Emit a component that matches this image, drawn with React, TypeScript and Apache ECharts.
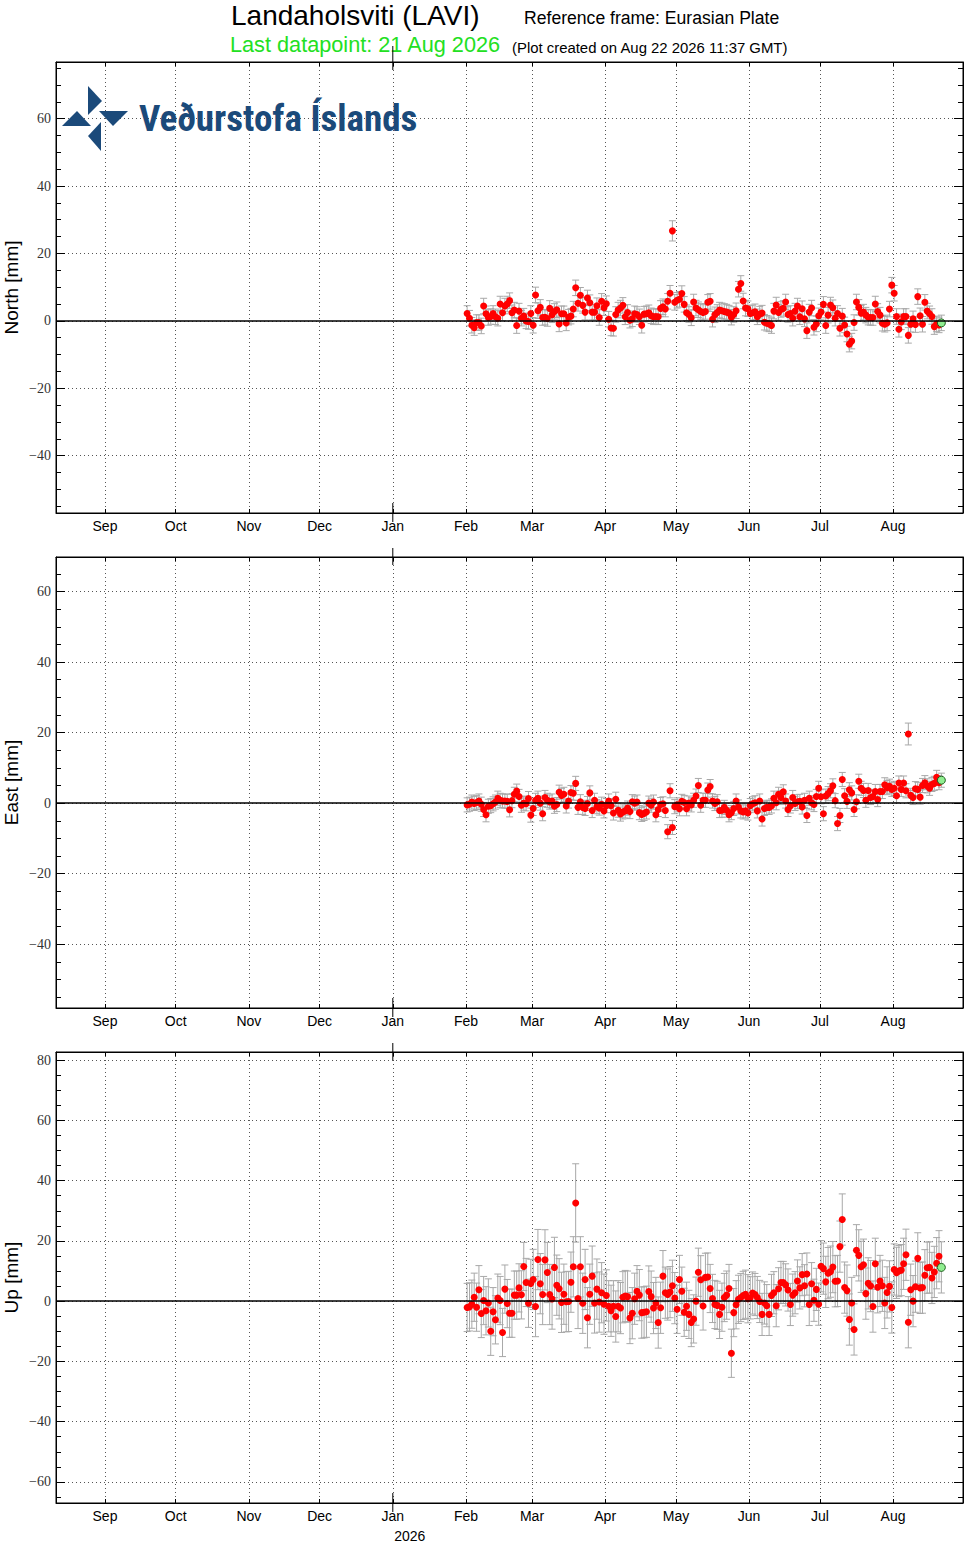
import React, { useEffect, useRef } from "react";
import * as echarts from "echarts";

const DAY_MS = 86400000;
const FIRST_DAY = Date.UTC(2026, 1, 1, 12);
const X_MIN = Date.UTC(2025, 7, 11, 6);
const X_MAX = Date.UTC(2026, 7, 30, 16);

const MONTH_LABELS = ["Sep", "Oct", "Nov", "Dec", "Jan", "Feb", "Mar", "Apr", "May", "Jun", "Jul", "Aug"];
const MONTH_STARTS = [
  Date.UTC(2025, 8, 1), Date.UTC(2025, 9, 1), Date.UTC(2025, 10, 1), Date.UTC(2025, 11, 1),
  Date.UTC(2026, 0, 1), Date.UTC(2026, 1, 1), Date.UTC(2026, 2, 1), Date.UTC(2026, 3, 1),
  Date.UTC(2026, 4, 1), Date.UTC(2026, 5, 1), Date.UTC(2026, 6, 1), Date.UTC(2026, 7, 1),
];
const YEAR_LABEL = "2026";

const NORTH_TICKS = [-40, -20, 0, 20, 40, 60];
const EAST_TICKS = [-40, -20, 0, 20, 40, 60];
const UP_TICKS = [-60, -40, -20, 0, 20, 40, 60, 80];

// daily values from 1 Feb 2026 to 21 Aug 2026 (mm)
const NORTH = [
  2.2, 0.8, -1.3, -2.0, -0.5, -0.5, -1.5, 4.4, 2.1, 1.0,
  1.3, 2.2, 1.2, 0.8, 5.0, 2.4, 4.4, 5.0, 6.0, 2.4,
  3.2, -1.4, 2.9, 0.8, 1.4, 0.0, -0.2, 2.2, -1.3, 7.7,
  3.0, 4.0, 1.0, 1.1, 0.7, 3.7, 1.8, 2.8, 3.3, -0.9,
  2.1, 2.1, -0.6, 1.1, 1.4, 3.5, 9.8, 5.2, 7.6, 4.6,
  2.6, 6.8, 5.4, 2.6, 2.6, 4.5, 1.0, 5.8, 3.9, 5.1,
  0.5, -2.1, -2.2, 1.9, 3.2, 3.8, 4.6, 1.2, 2.5, 0.2,
  0.6, 2.1, 1.9, 1.2, -1.3, 2.0, 2.1, 2.4, 1.5, 1.2,
  1.3, 1.2, 3.7, 4.2, 3.5, 5.8, 8.2, 26.7, 5.5, 6.1,
  6.4, 8.1, 4.9, 2.4, 1.9, 0.9, 5.6, 3.8, 3.3, 2.8,
  2.5, 2.8, 5.5, 5.8, 0.5, 1.8, 2.5, 3.2, 3.0, 2.8,
  2.6, 2.3, 1.1, 1.9, 3.0, 9.4, 11.1, 5.9, 3.8, 3.6,
  2.2, 2.4, 2.7, 1.2, 2.0, 2.3, -0.4, -0.7, -0.9, -1.4,
  2.9, 4.7, 2.5, 3.4, 3.7, 5.6, 1.9, 2.2, 0.8, 2.9,
  4.4, 1.2, 3.6, 0.6, -2.9, 2.6, 3.8, -1.9, -0.9, 1.5,
  2.6, 4.9, -1.4, 1.7, 4.7, 3.9, 0.8, 2.2, -2.2, 1.4,
  -1.2, -3.9, -6.9, -6.0, -0.5, 5.6, 4.0, 2.3, 2.6, 1.7,
  1.1, 1.0, 1.0, 5.0, 2.8, 1.7, -0.7, -1.0, -0.6, 3.5,
  10.6, 8.2, 1.3, -2.5, -0.3, 1.3, 1.3, -4.3, -1.0, 0.6,
  -1.1, 7.2, 1.5, -1.0, 5.5, 2.9, 2.1, 1.3, -1.7, -0.9,
  -1.2, -0.6,
];
const EAST = [
  -0.5, -0.3, 0.3, -0.1, 0.2, 0.6, -0.3, -1.8, -3.3, -0.9,
  -0.7, -0.2, 0.3, 1.4, 0.8, 0.6, 0.6, 0.5, -1.9, 0.7,
  2.5, 3.4, 1.9, -0.6, 0.0, -0.2, 1.3, -3.4, -1.5, 0.8,
  1.4, 0.0, -3.0, 1.6, 0.8, 0.3, 0.6, -0.9, -0.4, 3.1,
  2.2, 2.5, -0.8, 0.6, 3.0, 2.8, 5.6, -1.2, 0.4, -1.2,
  -1.5, -0.1, 2.9, -2.1, 0.8, -1.0, -1.4, -0.3, -2.2, -0.7,
  0.6, -0.7, -2.8, 1.1, -2.0, -3.1, -2.5, -2.2, -1.4, -2.4,
  0.4, 0.0, 0.3, -2.7, -3.2, -2.9, -2.5, 0.0, -0.6, 0.3,
  -3.3, -1.8, -0.4, -0.2, -2.1, -8.1, 3.5, -6.9, -1.0, -0.5,
  -1.6, 0.5, 0.2, -1.6, 0.0, -0.5, 0.8, 2.0, 5.0, -0.6,
  0.8, 0.8, 3.7, 4.7, 0.6, -0.1, 0.4, -2.1, -2.0, -1.2,
  -2.0, -3.3, -2.7, -1.5, 0.6, -1.1, -2.2, -2.5, -2.2, -2.8,
  -0.7, -0.2, 0.1, -2.2, 0.6, -4.5, -1.5, -1.2, -1.2, -0.8,
  1.4, 0.1, 2.5, 1.6, 3.2, 0.6, -1.8, -0.8, 1.6, -0.1,
  0.4, 0.5, -1.1, 0.8, -3.5, 1.4, 0.1, -0.4, 1.9, 4.2,
  1.8, -3.0, 2.0, 2.7, 3.5, 4.9, 0.7, -5.8, -3.5, 6.7,
  2.1, 0.5, 3.8, 2.9, -1.8, 0.4, 6.2, 4.2, 3.6, 0.8,
  3.6, 1.6, 1.9, 3.3, 1.0, 3.3, 3.3, 5.2, 4.4, 4.8,
  3.9, 4.2, 2.1, 5.7, 3.9, 5.7, 3.5, 19.6, 2.2, 1.6,
  4.1, 3.9, 1.7, 5.0, 5.8, 4.9, 4.2, 5.3, 5.6, 7.3,
  5.8, 6.5,
];
const UP = [
  -2.1, -1.9, -1.0, 1.3, -2.0, 3.8, -4.1, 0.2, -3.2, -0.6,
  -10.0, -3.5, -6.2, 1.0, 0.2, -10.4, 4.0, -0.8, -4.0, -4.0,
  2.0, 2.0, 4.4, 2.1, 11.5, 6.2, -0.7, 5.9, 7.2, -1.8,
  13.8, 5.8, 2.2, 13.7, 9.5, 2.2, 0.7, 11.2, 5.3, 4.1,
  -0.4, 2.3, -0.2, -0.1, 6.3, 11.4, 32.6, 0.9, 11.4, -0.7,
  7.2, -5.5, 2.3, 8.3, -0.6, 4.0, -0.3, 2.8, -1.0, 1.9,
  -1.7, -3.2, -1.7, -5.1, -1.7, -2.3, 1.3, 1.7, 1.5, -5.6,
  -4.0, 0.8, 3.3, 2.0, -3.8, -3.7, -3.5, 3.2, 1.5, -2.3,
  -0.6, -7.1, -2.2, 8.3, 2.8, 2.2, 3.0, 5.1, 1.0, -2.7,
  7.2, 3.3, -3.7, -1.7, -4.4, -7.1, -5.9, 0.0, 9.6, 7.1,
  -1.6, 7.9, 8.0, 4.2, 0.9, -1.1, -1.4, -4.4, -2.0, 1.2,
  2.0, 4.2, -17.3, -3.8, -1.2, 0.6, 1.2, 1.9, 2.3, 0.8,
  1.1, 2.7, 2.2, 1.2, -0.1, -4.4, -0.6, -1.5, -4.4, 1.9,
  2.8, -1.5, 4.1, 6.2, 6.2, 5.4, 3.7, -1.1, 2.0, 2.8,
  6.7, 4.4, 8.8, 5.1, 9.0, -1.1, 5.8, 0.3, 3.9, -1.0,
  11.6, 10.8, 6.4, 9.3, 9.8, 11.3, 6.6, 6.7, 18.1, 27.1,
  4.5, 3.5, -6.1, -0.6, -9.4, 16.9, 15.2, 11.4, 12.1, 2.5,
  5.9, 5.0, -1.8, 12.4, 4.6, 6.7, 5.1, -0.6, 2.9, 4.9,
  -2.1, 10.5, 9.4, 10.0, 10.3, 12.4, 15.4, -7.0, 3.8, 0.0,
  4.8, 14.2, 4.4, 4.5, 8.6, 11.1, 11.2, 7.7, 9.7, 12.6,
  14.9, 11.2,
];

// 1-sigma uncertainties (mm)
const NORTH_ERR = 2.3;
const NORTH_ERR_OVERRIDE: Record<number, number> = { 87: 3.0 };
const EAST_ERR = 2.0;
const EAST_ERR_OVERRIDE: Record<number, number> = { 187: 3.1 };
// Feb, Mar, Apr, May, Jun, Jul, Aug
const UP_ERR_BY_MONTH = [8.0, 10.0, 8.5, 8.0, 7.0, 8.5, 8.5];
const UP_ERR_OVERRIDE: Record<number, number> = { 46: 13.0 };

const dayTime = (i: number) => FIRST_DAY + i * DAY_MS;

const northErr = (i: number) => NORTH_ERR_OVERRIDE[i] ?? NORTH_ERR;
const eastErr = (i: number) => EAST_ERR_OVERRIDE[i] ?? EAST_ERR;
const upErr = (i: number) =>
  UP_ERR_OVERRIDE[i] ?? UP_ERR_BY_MONTH[new Date(dayTime(i)).getUTCMonth() - 1];

const PANELS = [
  { name: "North [mm]", values: NORTH, err: northErr, min: -57, max: 76.8, ticks: NORTH_TICKS, top: 62 },
  { name: "East [mm]", values: EAST, err: eastErr, min: -58.1, max: 69.8, ticks: EAST_TICKS, top: 557 },
  { name: "Up [mm]", values: UP, err: upErr, min: -67, max: 82.7, ticks: UP_TICKS, top: 1052 },
];

const GRID_LEFT = 56;
const GRID_WIDTH = 907;
const GRID_HEIGHT = 451;

const SANS = "'Liberation Sans', Arial, Helvetica, sans-serif";
const SERIF = "'Liberation Serif', 'DejaVu Serif', serif";

const minorTicks = (min: number, max: number, major: number[]) => {
  const out: number[] = [];
  for (let v = Math.ceil(min / 5) * 5; v <= max; v += 5) {
    if (!major.includes(v) && v % 20 !== 0) out.push(v);
  }
  return out;
};

const fmtY = (v: number) => (v < 0 ? "\u2212" + Math.abs(v) : String(v));
const fmtMonth = (v: number) => {
  let best = 0;
  for (let i = 1; i < MONTH_STARTS.length; i++) {
    if (Math.abs(MONTH_STARTS[i] - v) < Math.abs(MONTH_STARTS[best] - v)) best = i;
  }
  return MONTH_LABELS[best];
};

const dotted = { type: [1, 3] as any, color: "#555", width: 1 };

function buildOption(): any {
  const grid: any[] = [];
  const xAxis: any[] = [];
  const yAxis: any[] = [];
  const series: any[] = [];

  const gridBase = { left: GRID_LEFT, width: GRID_WIDTH, height: GRID_HEIGHT, containLabel: false, outerBoundsMode: "none" };
  PANELS.forEach((p) => {
    grid.push({ ...gridBase, top: p.top, show: true, borderColor: "#000", borderWidth: 1 });
  });
  PANELS.forEach((p) => {
    grid.push({ ...gridBase, top: p.top, show: false });
  });

  PANELS.forEach((p, k) => {
    xAxis.push({
      type: "value", gridIndex: k, min: X_MIN, max: X_MAX, position: "bottom", scale: true,
      axisLine: { show: true, onZero: false, lineStyle: { color: "#000", width: 1 } },
      axisTick: { show: true, inside: true, length: 4, customValues: MONTH_STARTS, lineStyle: { color: "#000" } },
      axisLabel: { show: true, customValues: MONTH_STARTS, formatter: fmtMonth, color: "#000", fontFamily: SANS, fontSize: 14, margin: 6, showMinLabel: true, showMaxLabel: true },
      splitLine: { show: true, lineStyle: dotted },
    });
    xAxis.push({
      type: "value", gridIndex: k, min: X_MIN, max: X_MAX, position: "top", scale: true,
      axisLine: { show: true, onZero: false, lineStyle: { color: "#000", width: 1 } },
      axisTick: { show: true, inside: true, length: 4, customValues: MONTH_STARTS, lineStyle: { color: "#000" } },
      axisLabel: { show: false },
      splitLine: { show: false },
    });
  });
  PANELS.forEach((p, k) => {
    xAxis.push({ type: "value", gridIndex: 3 + k, min: X_MIN, max: X_MAX, scale: true, show: false });
  });

  PANELS.forEach((p, k) => {
    yAxis.push({
      type: "value", gridIndex: k, min: p.min, max: p.max, position: "left",
      name: p.name, nameLocation: "middle", nameGap: 35, nameMoveOverlap: false,
      nameTextStyle: { fontSize: 19, fontFamily: SANS, color: "#000" },
      axisLine: { show: true, onZero: false, lineStyle: { color: "#000", width: 1 } },
      axisTick: { show: true, inside: true, length: 9, customValues: p.ticks, lineStyle: { color: "#000" } },
      axisLabel: { show: true, customValues: p.ticks, formatter: fmtY, color: "#333", fontFamily: SERIF, fontSize: 14, margin: 5 },
      splitLine: { show: true, lineStyle: dotted },
    });
    yAxis.push({
      type: "value", gridIndex: k, min: p.min, max: p.max, position: "right",
      axisLine: { show: true, onZero: false, lineStyle: { color: "#000", width: 1 } },
      axisTick: { show: true, inside: true, length: 9, customValues: p.ticks, lineStyle: { color: "#000" } },
      axisLabel: { show: false },
      splitLine: { show: false },
    });
  });
  PANELS.forEach((p, k) => {
    const minors = minorTicks(p.min, p.max, p.ticks);
    ["left", "right"].forEach((pos) => {
      yAxis.push({
        type: "value", gridIndex: 3 + k, min: p.min, max: p.max, position: pos,
        axisLine: { show: false, onZero: false },
        axisTick: { show: true, inside: true, length: 5, customValues: minors, lineStyle: { color: "#000" } },
        axisLabel: { show: false },
        splitLine: { show: false },
      });
    });
  });

  PANELS.forEach((p, k) => {
    const n = p.values.length;
    const errData = p.values.map((v, i) => [dayTime(i), v, p.err(i)]);
    const pts = p.values.slice(0, n - 1).map((v, i) => [dayTime(i), v]);
    const last = [[dayTime(n - 1), p.values[n - 1]]];
    series.push({
      type: "custom", xAxisIndex: 2 * k, yAxisIndex: 2 * k, z: 2, silent: true,
      data: errData, encode: { x: 0, y: 1 },
      renderItem: (params: any, api: any) => {
        const t = api.value(0), v = api.value(1), e = api.value(2);
        const a = api.coord([t, v + e]);
        const b = api.coord([t, v - e]);
        const hw = 3.5;
        const st = { stroke: "#a8a8a8", lineWidth: 1 };
        return {
          type: "group",
          children: [
            { type: "line", shape: { x1: a[0], y1: a[1], x2: b[0], y2: b[1] }, style: st },
            { type: "line", shape: { x1: a[0] - hw, y1: a[1], x2: a[0] + hw, y2: a[1] }, style: st },
            { type: "line", shape: { x1: b[0] - hw, y1: b[1], x2: b[0] + hw, y2: b[1] }, style: st },
          ],
        };
      },
    });
    series.push({
      type: "scatter", xAxisIndex: 2 * k, yAxisIndex: 2 * k, z: 3, silent: true,
      symbol: "circle", symbolSize: 7, data: pts,
      itemStyle: { color: "#ff0000", opacity: 1 },
      markLine: {
        silent: true, symbol: "none", label: { show: false },
        lineStyle: { color: "#000", width: 1.5, type: "solid" },
        data: [{ yAxis: 0 }],
      },
    });
    series.push({
      type: "scatter", xAxisIndex: 2 * k, yAxisIndex: 2 * k, z: 4, silent: true,
      symbol: "circle", symbolSize: 8, data: last,
      itemStyle: { color: "#90ee90", borderColor: "#1f5f1f", borderWidth: 1, opacity: 1 },
    });
  });

  return { animation: false, backgroundColor: "#fff", grid, xAxis, yAxis, series };
}

function buildGraphic(janX: number): any[] {
  const g: any[] = [];
  const text = (x: number, y: number, s: string, size: number, fill = "#000", extra: any = {}) => ({
    type: "text", x, y, silent: true,
    style: { text: s, fill, fontSize: size, fontFamily: SANS, align: "left", verticalAlign: "middle", ...extra },
  });
  g.push(text(231, 15, "Landaholsviti (LAVI)", 28));
  g.push(text(524, 17.5, "Reference frame: Eurasian Plate", 17.6));
  g.push(text(230, 44.5, "Last datapoint: 21 Aug 2026", 21.7, "#22e022"));
  g.push(text(512, 47.5, "(Plot created on Aug 22 2026 11:37 GMT)", 14.9));
  g.push(text(janX + 17, 1536, YEAR_LABEL, 14, "#000", { align: "center" }));

  // year boundary ticks
  PANELS.forEach((p, k) => {
    const top = p.top, bot = p.top + GRID_HEIGHT;
    const t1 = k === 0 ? top - 16 : top - 9;
    g.push({ type: "line", silent: true, shape: { x1: janX, y1: t1, x2: janX, y2: top + 8 }, style: { stroke: "#000", lineWidth: 1 } });
    g.push({ type: "line", silent: true, shape: { x1: janX, y1: bot - 10, x2: janX, y2: bot + 9 }, style: { stroke: "#000", lineWidth: 1 } });
  });

  // logo
  const blue = "#1b4a7a";
  const poly = (pts: number[][]) => ({ type: "polygon", silent: true, shape: { points: pts }, style: { fill: blue } });
  g.push(poly([[88, 86], [102, 101], [88, 115]]));
  g.push(poly([[77, 111], [91, 126], [62, 126]]));
  g.push(poly([[99, 111], [128, 111], [113, 126]]));
  g.push(poly([[101, 122], [88, 136], [101, 151]]));
  g.push({
    type: "text", x: 139, y: 118, silent: true,
    style: { text: "Veðurstofa Íslands", fill: blue, fontSize: 37, fontWeight: "bold", fontFamily: "'Liberation Sans Narrow', 'Roboto Condensed', 'DejaVu Sans Condensed', sans-serif", align: "left", verticalAlign: "middle" },
  });
  return g;
}

export default function App() {
  const ref = useRef<HTMLDivElement>(null);
  useEffect(() => {
    document.body.style.margin = "0";
    const chart = echarts.init(ref.current as HTMLDivElement, null, { renderer: "svg" });
    chart.setOption(buildOption());
    let janX = chart.convertToPixel({ xAxisIndex: 0 }, MONTH_STARTS[4]) as any;
    if (typeof janX !== "number" || isNaN(janX)) {
      janX = GRID_LEFT + (GRID_WIDTH * (MONTH_STARTS[4] - X_MIN)) / (X_MAX - X_MIN);
    }
    chart.setOption({ graphic: buildGraphic(janX) });
    return () => chart.dispose();
  }, []);
  return <div ref={ref} style={{ width: 964, height: 1543 }} />;
}
